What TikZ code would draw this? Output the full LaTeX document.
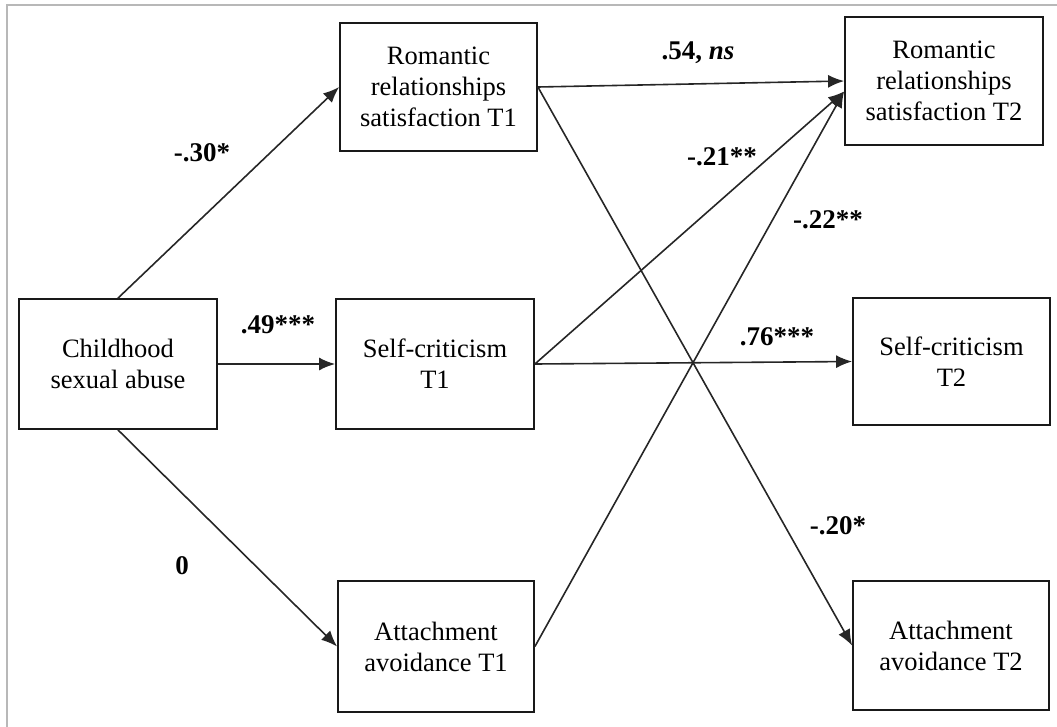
\documentclass[tikz,border=0pt]{standalone}
\usepackage{fontspec}
\setmainfont{Liberation Serif}
\usetikzlibrary{arrows.meta}
\begin{document}
\begin{tikzpicture}[x=1pt,y=-1pt,
  box/.style={draw=black!90,line width=1.8pt,rectangle,inner sep=0pt,align=center,
    font=\fontsize{26.5}{31}\selectfont},
  conn/.style={draw=black!85,line width=1.6pt,-{Latex[length=16pt,width=13pt]}},
  lab/.style={font=\fontsize{27}{31}\selectfont\bfseries,inner sep=0pt}]
\useasboundingbox (0,0) rectangle (1057,726);
\draw[black!28,line width=2pt] (7,727) -- (7,5) -- (1058,5);

\node[box,minimum width=198pt,minimum height=130pt] (csa)  at (118,364)   {Childhood\\sexual abuse};
\node[box,minimum width=197pt,minimum height=128pt] (rrs1) at (438.5,87)  {Romantic\\relationships\\satisfaction T1};
\node[box,minimum width=198pt,minimum height=130pt] (sc1)  at (435,364)   {Self-criticism\\T1};
\node[box,minimum width=196pt,minimum height=131pt] (aa1)  at (436,646.5) {Attachment\\avoidance T1};
\node[box,minimum width=198pt,minimum height=128pt] (rrs2) at (944,81)    {Romantic\\relationships\\satisfaction T2};
\node[box,minimum width=197pt,minimum height=127pt] (sc2)  at (951.5,361.5) {Self-criticism\\T2};
\node[box,minimum width=196pt,minimum height=129pt] (aa2)  at (951,645.5) {Attachment\\avoidance T2};

\draw[conn] (csa.north) -- (rrs1.west);
\draw[conn] (csa.east) -- (sc1.west);
\draw[conn] (csa.south) -- (aa1.west);
\draw[conn] (rrs1.east) -- (rrs2.west);
\draw[conn] (sc1.east) -- (rrs2.186);
\draw[conn] (aa1.east) -- (rrs2.186);
\draw[conn] (sc1.east) -- (sc2.west);
\draw[conn] (rrs1.east) -- (aa2.west);

\node[lab] (l1) at (202,153) {-.30*};
\node[lab] (l2) at (278,325) {.49***};
\node[lab] (l3) at (182,566) {0};
\node[lab] (l4) at (698,53)  {.54, \textit{ns}};
\node[lab] (l5) at (722,157) {-.21**};
\node[lab] (l6) at (828,220) {-.22**};
\node[lab] (l7) at (777,337) {.76***};
\node[lab] (l8) at (838,526) {-.20*};
\end{tikzpicture}
\end{document}
